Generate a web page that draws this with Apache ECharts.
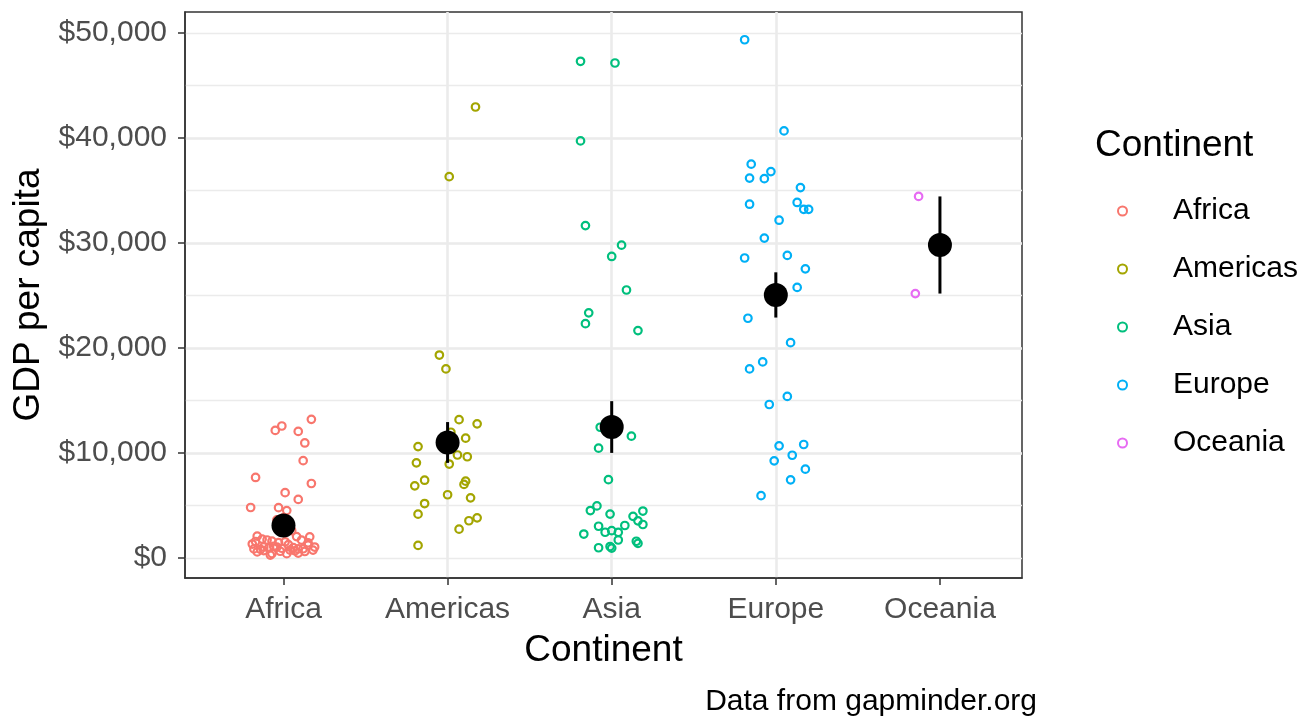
<!DOCTYPE html>
<html>
<head>
<meta charset="utf-8">
<title>GDP per capita by continent</title>
<script src="https://cdn.jsdelivr.net/npm/echarts@6/dist/echarts.min.js"></script>
<style>
  html, body { margin: 0; padding: 0; background: #fff; }
  #chart { width: 1312px; height: 716px; }
</style>
</head>
<body>
<div id="chart"></div>
<script>
const continents = ["Africa", "Americas", "Asia", "Europe", "Oceania"];
const colors = ["#F8766D", "#A3A500", "#00BF7D", "#00B0F6", "#E76BF3"];
const yTicks = [0, 10000, 20000, 30000, 40000, 50000];
const xTicks = [1, 2, 3, 4, 5];

// gdp per capita, with the horizontal jitter of each point
const africaGdp = [6223, 4797, 1441, 12570, 1217, 430, 2042, 706, 1704, 986, 278, 3633, 1545, 2082, 5581, 12154, 641, 691, 13206, 753, 1328, 943, 579, 1463, 1569, 415, 12057, 1045, 759, 1042, 1803, 10957, 3820, 824, 4811, 620, 2014, 7670, 863, 1598, 1712, 863, 926, 9270, 2602, 4513, 1107, 883, 7093, 1056, 1271, 470];
const africaJitter = [0.01, -0.03, 0.15, -0.01, 0.15, -0.07, 0.08, -0.12, 0.11, 0.06, -0.08, -0.04, 0.01, -0.16, 0.09, -0.05, -0.02, 0.07, 0.17, 0.18, -0.19, -0.09, -0.16, -0.03, -0.17, 0.02, 0.09, 0.19, 0.04, -0.04, -0.13, 0.13, 0.0, -0.14, -0.2, 0.13, 0.16, -0.17, -0.18, -0.07, -0.1, 0.09, -0.01, 0.12, 0.05, 0.02, -0.06, 0.12, 0.17, -0.12, 0.03, 0.09];

const americasGdp = [12779, 3822, 9066, 36319, 13172, 7007, 9645, 8948, 6025, 6873, 5728, 5186, 1202, 3548, 7321, 11978, 2749, 9809, 4173, 7409, 19329, 18009, 42952, 10611, 11416];
const americasJitter = [0.18, 0.18, -0.19, 0.01, 0.07, 0.1, 0.12, 0.01, 0.0, -0.2, 0.14, -0.14, -0.18, 0.13, 0.11, 0.02, 0.07, 0.06, -0.18, -0.14, -0.05, -0.01, 0.17, -0.18, 0.11];

const asiaGdp = [975, 29796, 1391, 1714, 4959, 39725, 2452, 3541, 11606, 4471, 25523, 31656, 4519, 1593, 23348, 47307, 10461, 12452, 3096, 944, 1091, 22316, 2606, 3190, 21655, 47143, 3970, 4185, 28718, 7458, 2442, 3025, 2281];
const asiaJitter = [-0.08, 0.06, 0.16, 0.04, -0.09, -0.19, -0.04, 0.16, 0.12, 0.19, 0.09, -0.16, -0.13, 0.15, -0.14, -0.19, -0.08, -0.07, 0.08, 0.0, -0.01, -0.16, 0.0, 0.19, 0.16, 0.02, 0.13, -0.01, 0.0, -0.02, 0.04, -0.08, -0.17];

const europeGdp = [5937, 36126, 33693, 7446, 10681, 14619, 22833, 35278, 33207, 30470, 32170, 27538, 18009, 36181, 40676, 28570, 9254, 36798, 49357, 15390, 20510, 10808, 9787, 18678, 25768, 28821, 33860, 37506, 8458, 33203];
const europeJitter = [-0.09, -0.07, -0.16, 0.09, 0.02, -0.04, -0.17, 0.15, 0.17, -0.07, 0.02, 0.18, -0.16, -0.16, 0.05, -0.19, -0.01, -0.03, -0.19, 0.07, 0.09, 0.17, 0.1, -0.08, 0.13, 0.07, 0.13, -0.15, 0.18, 0.2];

const oceaniaGdp = [34435, 25185];
const oceaniaJitter = [-0.13, -0.15];

// mean and mean +/- standard error per continent
const means = [3089, 11003, 12473, 25054, 29810];
const seLow = [2587, 9060, 10009, 22900, 25185];
const seHigh = [3591, 12946, 14937, 27208, 34435];

const gdpLists = [africaGdp, americasGdp, asiaGdp, europeGdp, oceaniaGdp];
const jitterLists = [africaJitter, americasJitter, asiaJitter, europeJitter, oceaniaJitter];

const font = "'Liberation Sans', Arial, sans-serif";

let myChart = echarts.init(document.getElementById("chart"));

const pointSeries = continents.map((name, k) => ({
  name: name,
  type: "scatter",
  data: gdpLists[k].map((v, i) => [k + 1 + jitterLists[k][i], v]),
  symbol: "circle",
  symbolSize: 7.5,
  itemStyle: {
    color: "rgba(0,0,0,0)",
    borderColor: colors[k],
    borderWidth: 2.2,
    opacity: 1,
  },
  emphasis: { disabled: true },
  z: 2,
}));

const errorSeries = {
  name: "se",
  type: "custom",
  data: continents.map((c, k) => [k + 1, seLow[k], seHigh[k]]),
  renderItem: (params, api) => {
    const p1 = api.coord([api.value(0), api.value(1)]);
    const p2 = api.coord([api.value(0), api.value(2)]);
    return {
      type: "line",
      shape: { x1: p1[0], y1: p1[1], x2: p2[0], y2: p2[1] },
      style: { stroke: "#000", lineWidth: 3 },
    };
  },
  z: 3,
};

const meanSeries = {
  name: "mean",
  type: "scatter",
  data: means.map((m, k) => [k + 1, m]),
  symbolSize: 24,
  itemStyle: { color: "#000", opacity: 1 },
  emphasis: { disabled: true },
  z: 4,
};

const tickStyle = { color: "#333", width: 1.5 };

const option = {
  animation: false,
  title: [
    {
      text: "Continent",
      left: 1095,
      top: 127,
      padding: 0,
      textStyle: { fontFamily: font, fontSize: 37, fontWeight: "normal", color: "#000" },
    },
    {
      text: "Data from gapminder.org",
      right: 275,
      top: 687,
      padding: 0,
      textStyle: { fontFamily: font, fontSize: 30, fontWeight: "normal", color: "#000" },
    },
  ],
  legend: {
    data: continents,
    orient: "vertical",
    left: 1117,
    top: 196,
    padding: 0,
    icon: "circle",
    itemWidth: 9,
    itemHeight: 9,
    itemGap: 28,
    selectedMode: false,
    textStyle: {
      fontFamily: font,
      fontSize: 30,
      lineHeight: 30,
      color: "#000",
      padding: [0, 0, 0, 41],
    },
  },
  grid: {
    left: 185,
    right: 290,
    top: 12,
    bottom: 138,
    show: true,
    backgroundColor: "#fff",
    borderColor: "#333",
    borderWidth: 1.5,
  },
  xAxis: {
    type: "value",
    min: 0.4,
    max: 5.5,
    splitNumber: 5,
    name: "Continent",
    nameLocation: "middle",
    nameGap: 54,
    nameTextStyle: { fontFamily: font, fontSize: 37, color: "#000" },
    axisLine: { show: true, onZero: false, lineStyle: tickStyle },
    axisTick: {
      show: true,
      customValues: xTicks,
      length: 7,
      lineStyle: tickStyle,
    },
    axisLabel: {
      customValues: xTicks,
      margin: 17,
      fontFamily: font,
      fontSize: 30,
      color: "#4d4d4d",
      formatter: (v) => continents[Math.round(v) - 1] || "",
    },
    splitLine: {
      show: true,
      showMinLine: false,
      showMaxLine: false,
      lineStyle: { color: "#ebebeb", width: 2.6 },
    },
  },
  yAxis: [
    {
      type: "value",
      min: -1905,
      max: 52000,
      splitNumber: 5,
      name: "GDP per capita",
      nameLocation: "middle",
      nameGap: 137,
      nameTextStyle: { fontFamily: font, fontSize: 37, color: "#000" },
      axisLine: { show: true, onZero: false, lineStyle: tickStyle },
      axisTick: {
        show: true,
        customValues: yTicks,
        length: 7,
        lineStyle: tickStyle,
      },
      axisLabel: {
        customValues: yTicks,
        margin: 18,
        fontFamily: font,
        fontSize: 30,
        color: "#4d4d4d",
        formatter: (v) => "$" + v.toLocaleString("en-US"),
      },
      splitLine: {
        show: true,
        showMinLine: false,
        showMaxLine: false,
        lineStyle: { color: "#ebebeb", width: 2.6 },
      },
      z: 1,
    },
    {
      // minor grid lines
      type: "value",
      min: -1905,
      max: 52000,
      splitNumber: 10,
      position: "right",
      axisLine: { show: false, onZero: false },
      axisTick: { show: false },
      axisLabel: { show: false },
      splitLine: {
        show: true,
        showMinLine: false,
        showMaxLine: false,
        lineStyle: { color: "#ebebeb", width: 1.3 },
      },
      z: 0,
    },
  ],
  series: [...pointSeries, errorSeries, meanSeries],
};
myChart.setOption(option);
</script>
</body>
</html>
